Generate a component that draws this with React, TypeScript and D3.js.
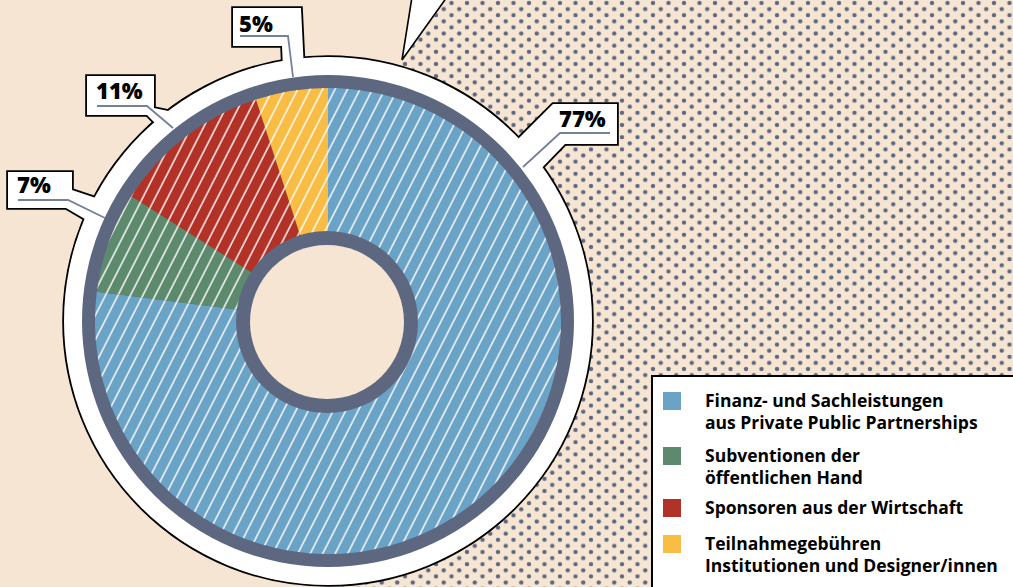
import React from 'react';
import * as d3 from 'd3';

// shares in percent, clockwise from 12 o'clock
const categories = [
  'Finanz- und Sachleistungen|aus Private Public Partnerships',
  'Subventionen der|öffentlichen Hand',
  'Sponsoren aus der Wirtschaft',
  'Teilnahmegebühren|Institutionen und Designer/innen',
];
const shares = [77, 7, 11, 5];
const colors = ['#6ba3c7', '#5d8a6d', '#b23228', '#f9bd45'];

const W = 1013;
const H = 587;
const cx = 328;
const cy = 321;
const rFill = 233;
const rDark = 246;
const rWhite = 264;
const rHoleOuter = 91;
const rHoleInner = 77;

const bg = '#f5e5d2';
const dark = '#5d6880';
const leader = '#75809a';
const font = "'Open Sans', sans-serif";

// callout boxes (shape merges into the white ring), leader path, text anchor
const callouts = [
  {
    idx: 0,
    shape: [[553, 104], [617, 104], [617, 144], [565, 144], [535, 175], [512, 145]],
    lead: [[610, 133], [560, 133], [523, 167]],
    tx: 559, ty: 127,
  },
  {
    idx: 1,
    shape: [[8, 172], [72, 172], [72, 190], [105, 201], [97, 226], [66, 208], [8, 208]],
    lead: [[18, 200], [68, 200], [105, 218]],
    tx: 17, ty: 193,
  },
  {
    idx: 2,
    shape: [[87, 76], [154, 76], [154, 108], [178, 113], [162, 130], [147, 115], [87, 115]],
    lead: [[97, 106], [147, 106], [173, 128]],
    tx: 96, ty: 99,
  },
  {
    idx: 3,
    shape: [[233, 8], [301, 8], [304, 70], [283, 70], [282, 46], [233, 46]],
    lead: [[240, 36], [288, 36], [293, 77]],
    tx: 239, ty: 32,
  },
];

const legendY = [392, 447, 499, 535];

const App: React.FC = () => {
  const pie = d3.pie<number>().sort(null).value(d => d)(shares);
  const arc = d3.arc<d3.PieArcDatum<number>>().innerRadius(0).outerRadius(rFill);
  const line = d3.line();

  const dotRegion = line([[446, 0], [W, 0], [W, H], [330, H], [330, 320], [402, 60]])! + 'Z';
  const ringShapes = (
    <>
      <circle cx={cx} cy={cy} r={rWhite} />
      {callouts.map((c, i) => (
        <path key={i} d={line(c.shape as [number, number][])! + 'Z'} />
      ))}
    </>
  );

  return (
    <svg width={W} height={H} style={{ position: 'absolute', left: 0, top: 0 }}>
      <defs>
        <pattern id="dots" patternUnits="userSpaceOnUse" width={15.5} height={12.2} x={2} y={3}>
          <circle cx={0} cy={0} r={2.2} fill={dark} />
          <circle cx={15.5} cy={0} r={2.2} fill={dark} />
          <circle cx={0} cy={12.2} r={2.2} fill={dark} />
          <circle cx={15.5} cy={12.2} r={2.2} fill={dark} />
          <circle cx={7.75} cy={6.1} r={2.2} fill={dark} />
        </pattern>
        <pattern id="hatch" patternUnits="userSpaceOnUse" width={11.1} height={20} patternTransform="rotate(27)">
          <line x1={1} y1={-2} x2={1} y2={22} stroke="#fff" strokeWidth={1.4} />
        </pattern>
      </defs>

      <rect width={W} height={H} fill={bg} />
      <path d={dotRegion} fill="url(#dots)" />

      {/* speech bubble tail */}
      <path d="M402,60 L412,-3 L447,-3 Z" fill="#fff" stroke="#000" strokeWidth={1.6} strokeLinejoin="miter" />

      {/* white ring + callouts, outline first then fill for a merged contour */}
      <g fill="#000" stroke="#000" strokeWidth={3.6} strokeLinejoin="miter">{ringShapes}</g>
      <g fill="#fff">{ringShapes}</g>

      {/* dark ring and slices */}
      <circle cx={cx} cy={cy} r={rDark} fill={dark} />
      <g transform={`translate(${cx},${cy})`}>
        {pie.map((p, i) => (
          <g key={i}>
            <path d={arc(p)!} fill={colors[i]} />
            <path d={arc(p)!} fill="url(#hatch)" />
          </g>
        ))}
      </g>
      <circle cx={cx - 1} cy={cy + 1} r={rHoleOuter} fill={dark} />
      <circle cx={cx - 1} cy={cy + 1} r={rHoleInner} fill={bg} />

      {/* leaders and percentages */}
      {callouts.map((c, i) => (
        <g key={i}>
          <path d={line(c.lead as [number, number][])!} fill="none" stroke={leader} strokeWidth={1.8} />
          <text x={c.tx} y={c.ty} fontFamily={font} fontWeight={800} fontSize={22} fill="#000">
            {`${shares[c.idx]}%`}
          </text>
        </g>
      ))}

      {/* legend */}
      <rect x={652} y={376} width={W} height={H} fill="#fff" stroke="#000" strokeWidth={2} />
      {categories.map((c, i) => (
        <g key={i}>
          <rect x={663} y={legendY[i]} width={18} height={18} fill={colors[i]} />
          <text fontFamily={font} fontWeight={700} fontSize={17.5} fill="#000">
            {c.split('|').map((s, j) => (
              <tspan key={j} x={705} y={legendY[i] + 15 + j * 22}>{s}</tspan>
            ))}
          </text>
        </g>
      ))}
    </svg>
  );
};

export default App;
